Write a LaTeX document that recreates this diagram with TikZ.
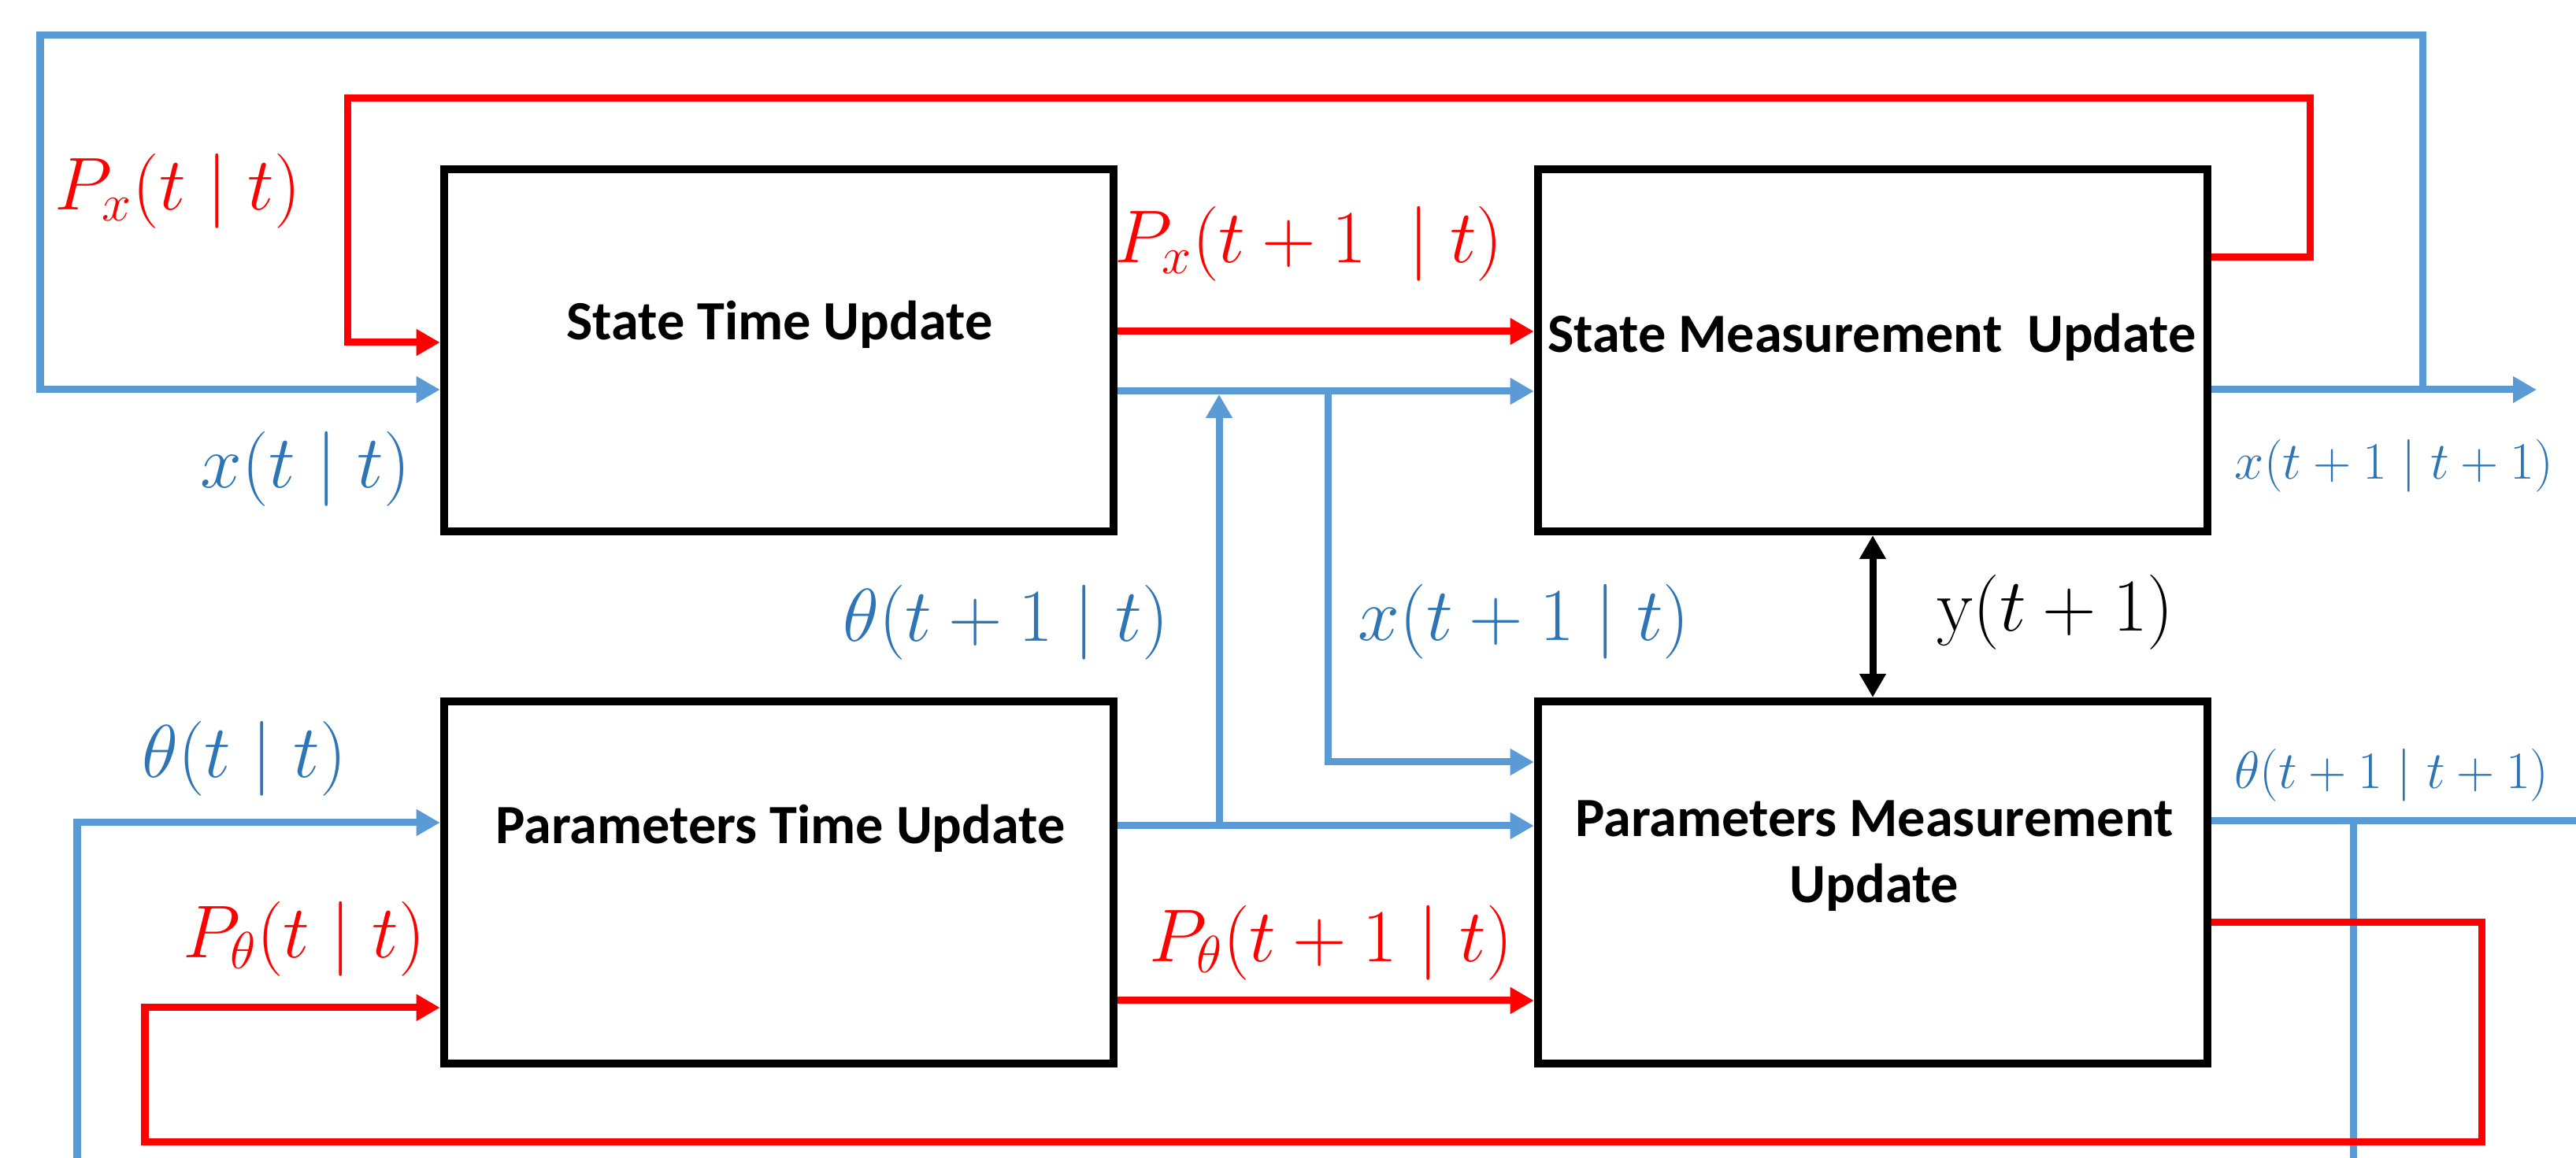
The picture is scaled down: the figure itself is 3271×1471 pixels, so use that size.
\RequirePackage{fix-cm}
\documentclass[tikz,border=0pt]{standalone}
\usepackage{fontspec}
\newfontfamily\calib{Carlito}
\usetikzlibrary{arrows.meta}
\definecolor{lblue}{RGB}{91,155,213}
\definecolor{tblue}{RGB}{46,117,182}
\definecolor{lred}{RGB}{255,0,0}
\tikzset{
 box/.style={draw=black, line width=0.1cm, minimum width=8.5cm, minimum height=4.6cm, inner sep=0pt},
 title/.style={font=\calib\bfseries\fontsize{20}{24}\selectfont, inner sep=0pt, align=center},
 bl/.style={draw=lblue, line width=0.09cm},
 rl/.style={draw=lred, line width=0.09cm},
 kl/.style={draw=black, line width=0.09cm},
 tip/.style={-{Triangle[length=0.3cm,width=0.32cm]}},
 tips/.style={{Triangle[length=0.3cm,width=0.32cm]}-{Triangle[length=0.3cm,width=0.32cm]}},
 lab/.style={inner sep=0pt, font=\fontsize{27}{32}\selectfont},
 slab/.style={inner sep=0pt, font=\fontsize{19}{23}\selectfont},
}
\begin{document}
\begin{tikzpicture}[x=0.01cm,y=-0.01cm]
\useasboundingbox[fill=white] (0,0) rectangle (3271,1471);

% boxes
\node[box] (stu) at (989,445) {};
\node[box] (smu) at (2378,445) {};
\node[box] (ptu) at (989,1121) {};
\node[box] (pmu) at (2378,1121) {};

% titles
\node[title, anchor=base] (tstu) at (990,432) {State Time Update};
\node[title, anchor=base] (tsmu) at (2377,448) {State Measurement~ Update};
\node[title, anchor=base] (tptu) at (991,1072) {Parameters Time Update};
\node[title] (tpmu) at (2380,1087) {Parameters Measurement\\Update};

% level coordinates
\coordinate (yb1) at (0,495);
\coordinate (yb2) at (0,497);
\coordinate (yr1) at (0,435);
\coordinate (yr2) at (0,421);
\coordinate (yr3) at (0,327);
\coordinate (yx) at (0,968);
\coordinate (yth) at (0,1049);
\coordinate (ythin) at (0,1045);
\coordinate (ythout) at (0,1043);
\coordinate (yrp) at (0,1271);
\coordinate (yrpo) at (0,1172);
\coordinate (yrpi) at (0,1280);

% junctions and free ends
\coordinate (jx) at (3076,495);
\coordinate (xout) at (3221,495);
\coordinate (jth) at (1548,1049);
\coordinate (jthT) at (1548,501);
\coordinate (jx2) at (1686,497);
\coordinate (thin) at (98,1471);
\coordinate (jtho) at (2988,1043);
\coordinate (thoutB) at (2988,1471);
\coordinate (thoutR) at (3271,1043);

% blue connectors
\draw[bl, tip] (smu.east |- yb1) -- (xout);
\draw[bl, tip] (jx) -- (3076,45) -- (51,45) -- (51,495) -- (stu.west |- yb1);
\draw[bl, tip] (stu.east |- yb2) -- (smu.west |- yb2);
\draw[bl, tip] (ptu.east |- yth) -- (pmu.west |- yth);
\draw[bl, tip] (jth) -- (jthT);
\draw[bl, tip] (jx2) |- (pmu.west |- yx);
\draw[bl, tip] (thin) |- (ptu.west |- ythin);
\draw[bl] (pmu.east |- ythout) -- (thoutR);
\draw[bl] (jtho) -- (thoutB);

% red connectors
\draw[rl, tip] (smu.east |- yr3) -- (2933,327) -- (2933,125) -- (441,125) -- (441,435) -- (stu.west |- yr1);
\draw[rl, tip] (stu.east |- yr2) -- (smu.west |- yr2);
\draw[rl, tip] (ptu.east |- yrp) -- (pmu.west |- yrp);
\draw[rl, tip] (pmu.east |- yrpo) -- (3151,1172) -- (3151,1451) -- (184,1451) -- (184,1280) -- (ptu.west |- yrpi);

% black measurement arrow
\draw[kl, tips] (smu.south) -- (pmu.north);

% labels
\node[lab, text=lred] (lpx) at (226,243) {$P_x(t\mid t)$};
\node[lab, text=tblue] (lx) at (388,596) {$x(t\mid t)$};
\node[lab, text=lred] (lpx1) at (1662,310) {$P_x(t+1\;\mid t)$};
\node[slab, text=tblue] (lxo) at (3040,592) {$x(t+1\mid t+1)$};
\node[lab, text=tblue] (lth1) at (1277,791) {$\theta(t+1\mid t)$};
\node[lab, text=tblue] (lx1) at (1935,790) {$x(t+1\mid t)$};
\node[lab, text=black] (ly) at (2610,778) {$\mathrm{y}(t+1)$};
\node[lab, text=tblue] (lth) at (310,964) {$\theta(t\mid t)$};
\node[slab, text=tblue] (ltho) at (3037,985) {$\theta(t+1\mid t+1)$};
\node[lab, text=lred] (lpth) at (386,1193) {$P_\theta(t\mid t)$};
\node[lab, text=lred] (lpth1) at (1690,1198) {$P_\theta(t+1\mid t)$};
\end{tikzpicture}
\end{document}
